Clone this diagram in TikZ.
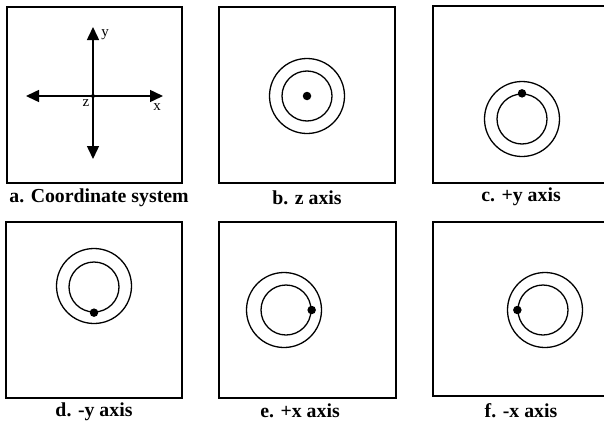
\documentclass[tikz,border=0pt]{standalone}
\usepackage{fontspec}
\setmainfont{Liberation Serif}[BoldFont={Liberation Serif Bold}]
\usetikzlibrary{arrows.meta}
\tikzset{
  panel/.style={draw, line width=1.7pt},
  ring/.style={draw, circle, line width=1.3pt, inner sep=0pt},
  outerring/.style={ring, minimum size=75pt},
  innerring/.style={ring, minimum size=50pt},
  bigdot/.style={fill, circle, inner sep=0pt, minimum size=8.5pt},
  smalldot/.style={fill, circle, inner sep=0pt, minimum size=4pt},
  caption/.style={font=\bfseries\fontsize{19.8}{22}\selectfont, inner sep=0pt},
  axislabel/.style={font=\fontsize{15}{17}\selectfont, inner sep=0pt},
  axisarrow/.style={line width=1.5pt, -{Triangle[length=13pt,width=12pt]}}
}
\begin{document}
\begin{tikzpicture}[x=1pt,y=-1pt]
\useasboundingbox (0,0) rectangle (604,423);
% panels
\draw[panel] (7,7) rectangle (182,183);
\draw[panel] (219,7) rectangle (395,183);
\draw[panel] (433,6) rectangle (606,183);
\draw[panel] (6,222) rectangle (182,398);
\draw[panel] (219,222) rectangle (396,398);
\draw[panel] (433,222) rectangle (606,396);
% captions
\node[caption] (capa) at (99,198) {a. Coordinate system};
\node[caption] (capb) at (307,198) {b. z axis};
\node[caption] (capc) at (521,197) {c. +y axis};
\node[caption] (capd) at (94,412) {d. -y axis};
\node[caption] (cape) at (300,411) {e. +x axis};
\node[caption] (capf) at (521,411) {f. -x axis};
% panel a: coordinate system
\node[smalldot] (origin) at (93,96) {};
\coordinate (xl) at (26,96);
\coordinate (xr) at (163,96);
\coordinate (yt) at (93,27);
\coordinate (yb) at (93,159);
\draw[axisarrow] (origin.center) -- (xl);
\draw[axisarrow] (origin.center) -- (xr);
\draw[axisarrow] (origin.center) -- (yt);
\draw[axisarrow] (origin.center) -- (yb);
\node[axislabel] (ylab) at (105,35) {y};
\node[axislabel] (zlab) at (86,103) {z};
\node[axislabel] (xlab) at (157,107) {x};
% panel b: z axis
\node[outerring] (bo) at (307,96) {};
\node[innerring] (bi) at (307,96) {};
\node[bigdot] (bd) at (307,96) {};
% panel c: +y axis
\node[outerring] (co) at (522,119) {};
\node[innerring] (ci) at (522,119) {};
\node[bigdot] (cd) at (ci.north) {};
% panel d: -y axis
\node[outerring] (do) at (94,286) {};
\node[innerring] (di) at (94,287) {};
\node[bigdot] (dd) at (di.south) {};
% panel e: +x axis
\node[outerring] (eo) at (284,310) {};
\node[innerring] (ei) at (286,310) {};
\node[bigdot] (ed) at (ei.east) {};
% panel f: -x axis
\node[outerring] (fo) at (545,310) {};
\node[innerring] (fi) at (543,310) {};
\node[bigdot] (fd) at (fi.west) {};
\end{tikzpicture}
\end{document}
